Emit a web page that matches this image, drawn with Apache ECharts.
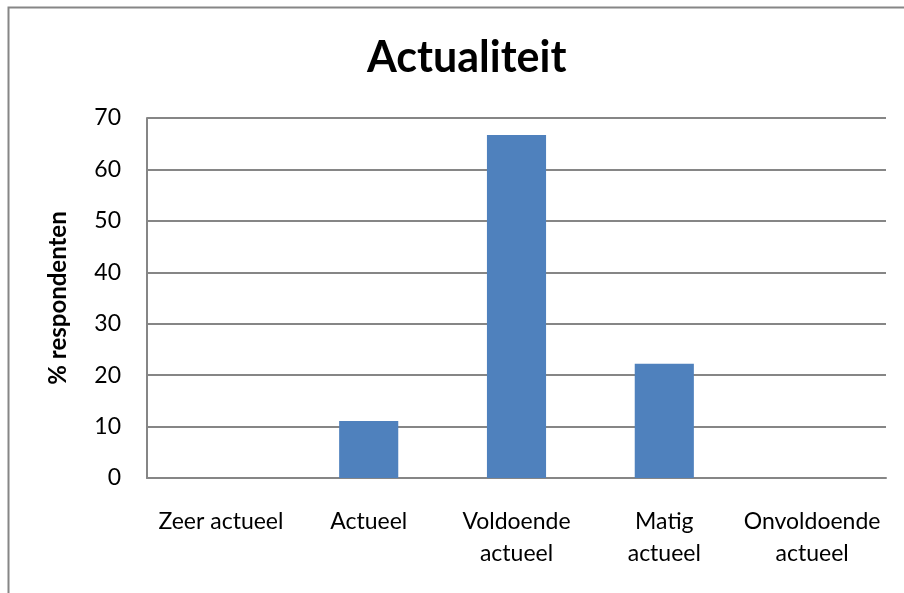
<!DOCTYPE html>
<html>
<head>
<meta charset="utf-8">
<script src="https://cdn.jsdelivr.net/npm/echarts@6/dist/echarts.min.js"></script>
<style>
  html, body { margin: 0; padding: 0; background: #fff; }
  #chart { width: 904px; height: 593px; }
</style>
</head>
<body>
<div id="chart"></div>
<script>
var categories = ['Zeer actueel', 'Actueel', 'Voldoende\nactueel', 'Matig\nactueel', 'Onvoldoende\nactueel']
var values = [0, 11.1, 66.7, 22.2, 0]
var yTicks = [0, 70, 10]

var chart = echarts.init(document.getElementById('chart'))
chart.setOption({
  animation: false,
  backgroundColor: '#fff',
  textStyle: { fontFamily: 'Lato, "Open Sans", sans-serif' },
  graphic: [
    {
      // kader rond de grafiek (rechts en onder vallen buiten beeld)
      type: 'rect',
      shape: { x: 8.5, y: 7.5, width: 2000, height: 2000 },
      style: { fill: null, stroke: '#868686', lineWidth: 2 },
      silent: true
    }
  ],
  title: {
    text: 'Actualiteit',
    left: 362,
    top: 32,
    textStyle: { fontSize: 43, fontWeight: 'bold', color: '#000', fontFamily: 'Lato, sans-serif' }
  },
  grid: { left: 147, right: 18, top: 118, bottom: 115 },
  xAxis: {
    type: 'category',
    data: categories,
    axisTick: { show: false },
    axisLine: { lineStyle: { color: '#868686', width: 2 } },
    axisLabel: { color: '#000', fontSize: 23, margin: 28, lineHeight: 32, interval: 0 }
  },
  yAxis: {
    type: 'value',
    min: yTicks[0],
    max: yTicks[1],
    interval: yTicks[2],
    name: '% respondenten',
    nameLocation: 'middle',
    nameGap: 77,
    nameRotate: 90,
    nameTextStyle: { color: '#000', fontSize: 24, fontWeight: 'bold' },
    axisLine: { show: true, lineStyle: { color: '#868686', width: 2 } },
    axisTick: { show: false },
    splitLine: { lineStyle: { color: '#868686', width: 2 } },
    axisLabel: { color: '#000', fontSize: 23, margin: 26 }
  },
  series: [
    {
      type: 'bar',
      data: values,
      barWidth: '40%',
      itemStyle: { color: '#4F81BD' }
    }
  ]
})
</script>
</body>
</html>
